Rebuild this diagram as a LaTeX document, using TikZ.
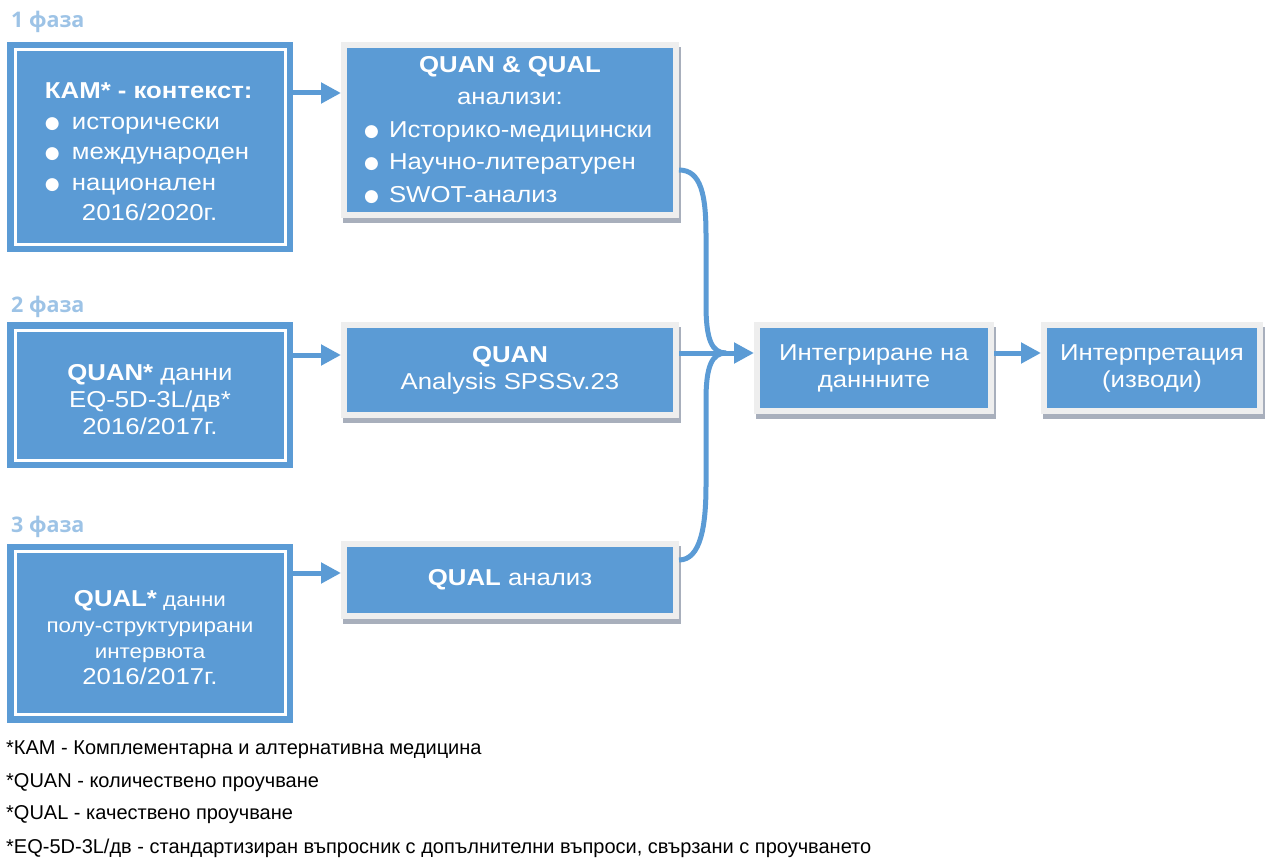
\documentclass[tikz,border=0pt]{standalone}
\usepackage{fontspec}
\setmainfont{Liberation Sans}
\newfontfamily\boxfont[FakeStretch=1.12]{Liberation Sans}
\newfontfamily\phasefont{Open Sans}
\newfontfamily\symfont{DejaVu Sans}
\usetikzlibrary{arrows.meta,calc}
\definecolor{boxblue}{HTML}{5B9BD5}
\definecolor{phaseblue}{HTML}{9DC3E6}
\definecolor{framegray}{HTML}{EEEEEE}
\definecolor{shadowgray}{HTML}{A8AFBC}
\newcommand\bulA{\makebox[27pt][l]{\raisebox{1pt}{\fontsize{17}{17}\symfont ●}}}
\newcommand\bulB{\makebox[25pt][l]{\raisebox{1pt}{\fontsize{17}{17}\symfont ●}}}
\newcommand\topstrut{\rule{0pt}{26pt}}
\tikzset{
  phaselabel/.style={anchor=west, text=phaseblue, font=\phasefont\bfseries\fontsize{21.5}{24}\selectfont, inner sep=0pt},
  phasebox/.style={draw=boxblue, fill=boxblue, line width=6.5pt, double=white, double distance=3pt,
    minimum width=270pt, align=center, text=white, inner sep=0pt, font=\boxfont\fontsize{23}{30.5}\selectfont},
  midbox/.style={fill=boxblue, draw=framegray, line width=6pt,
    preaction={fill=shadowgray, draw=shadowgray, line width=6pt, transform canvas={xshift=2pt,yshift=-5pt}},
    text=white, align=center, inner sep=0pt, font=\boxfont\fontsize{23}{27}\selectfont},
  conn/.style={draw=boxblue, line width=5pt, -{Triangle[length=20pt,width=20pt]}},
  curve/.style={draw=boxblue, line width=5pt},
  note/.style={anchor=west, inner sep=0pt, font=\fontsize{20}{24}\selectfont}
}
\begin{document}
\begin{tikzpicture}[x=1pt,y=-1pt]
\useasboundingbox (0,0) rectangle (1267,859);
% phase labels
\node[phaselabel] (l1) at (11,22) {1 фаза};
\node[phaselabel] (l2) at (11,307) {2 фаза};
\node[phaselabel] (l3) at (11,527) {3 фаза};
% phase boxes
\node[phasebox, minimum height=194pt] (p1) at (150,147) {%
  \makebox[210pt][l]{\topstrut\textbf{КАМ* - контекст:}}\\
  \makebox[210pt][l]{\bulA исторически}\\
  \makebox[210pt][l]{\bulA международен}\\
  \makebox[210pt][l]{\bulA национален}\\
  \makebox[210pt][l]{\hspace*{37pt}2016/2020г.}};
\node[phasebox, minimum height=130pt, font=\boxfont\fontsize{23}{27}\selectfont] (p2) at (150,395) {%
  \topstrut\textbf{QUAN*} данни\\EQ-5D-3L/дв*\\2016/2017г.};
\node[phasebox, minimum height=163pt, font=\boxfont\fontsize{20}{26}\selectfont] (p3) at (150,633) {%
  \topstrut{\fontsize{23}{26}\selectfont\textbf{QUAL*}} данни\\полу-структурирани\\интервюта\\{\fontsize{23}{26}\selectfont 2016/2017г.}};
% middle boxes
\node[midbox, minimum width=332pt, minimum height=170pt, font=\boxfont\fontsize{23}{32.5}\selectfont] (mq) at (510,130) {%
  \textbf{QUAN \& QUAL}\\анализи:\\
  \makebox[292pt][l]{\bulB Историко-медицински}\\
  \makebox[292pt][l]{\bulB Научно-литературен}\\
  \makebox[292pt][l]{\bulB SWOT-анализ}};
\node[midbox, minimum width=332pt, minimum height=90pt] (mquan) at (510,370) {\textbf{QUAN}\\Analysis SPSSv.23};
\node[midbox, minimum width=332pt, minimum height=72pt] (mqual) at (510,580) {\textbf{QUAL} анализ};
\node[midbox, minimum width=234pt, minimum height=86pt] (int) at (874,368) {Интегриране на\\даннните};
\node[midbox, minimum width=216pt, minimum height=86pt] (interp) at (1152,368) {Интерпретация\\(изводи)};
% connectors
\coordinate (m) at (726,353);
\draw[conn] (p1.east |- 0,93) -- (mq.west |- 0,93);
\draw[conn] (p2.east |- 0,355) -- (mquan.west |- 0,355);
\draw[conn] (p3.east |- 0,573) -- (mqual.west |- 0,573);
\draw[curve] ([yshift=-40pt]mq.east) .. controls +(22,0) and (706,195) .. (706,235) -- (706,305) .. controls (706,340) and (712,353) .. (m);
\draw[curve] ([yshift=20pt]mqual.east) .. controls +(22,0) and (706,525) .. (706,485) -- (706,400) .. controls (706,366) and (712,353) .. (m);
\draw[conn] (mquan.east |- m) -- (int.west |- m);
\draw[conn] (int.east |- 0,353) -- (interp.west |- 0,353);
% footnotes
\node[note] (n1) at (6,750) {*КАМ - Комплементарна и алтернативна медицина};
\node[note] (n2) at (6,783) {*QUAN - количествено проучване};
\node[note] (n3) at (6,815) {*QUAL - качествено проучване};
\node[note] (n4) at (6,848) {*EQ-5D-3L/дв - стандартизиран въпросник с допълнителни въпроси, свързани с проучването};
\end{tikzpicture}
\end{document}
